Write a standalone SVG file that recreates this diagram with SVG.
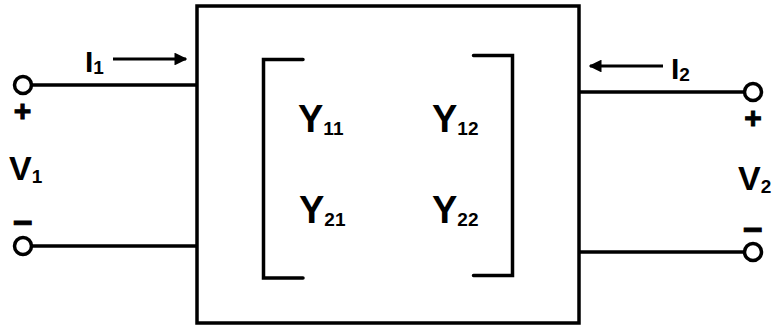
<svg xmlns="http://www.w3.org/2000/svg" width="774" height="329" viewBox="0 0 774 329">
<style>
.w{stroke:#000;stroke-width:3.5;fill:none;stroke-linecap:butt}
.br{stroke:#000;stroke-width:3.5;fill:none;stroke-linecap:round;stroke-linejoin:miter}
.t{font-family:"Liberation Sans",Arial,sans-serif;font-weight:bold;fill:#000}
.sym{font-family:"Liberation Sans",Arial,sans-serif;font-weight:bold;fill:#000;stroke:#000;stroke-width:1;text-anchor:middle}
.term{stroke:#000;stroke-width:3.5;fill:#fff}
.arr{stroke:#000;stroke-width:3.2}
</style>
<defs>
<marker id="ah" viewBox="0 0 10 10" refX="9" refY="5" markerWidth="4" markerHeight="4" markerUnits="strokeWidth" orient="auto">
<path d="M0,0 L10,5 L0,10 Z" fill="#000"/>
</marker>
</defs>
<g id="twoport">
<rect x="197" y="6" width="382" height="317" class="w"/>
<path class="br" d="M303,59.5 H263.5 V278 H303"/>
<path class="br" d="M473.5,55.5 H512.5 V275.5 H473.5"/>
<text class="t" x="298" y="132" font-size="38">Y<tspan font-size="19" dy="3">11</tspan></text>
<text class="t" x="432" y="132" font-size="38">Y<tspan font-size="19" dy="3">12</tspan></text>
<text class="t" x="299" y="223" font-size="38">Y<tspan font-size="19" dy="3">21</tspan></text>
<text class="t" x="432" y="223" font-size="38">Y<tspan font-size="19" dy="3">22</tspan></text>
</g>
<g id="connectors">
<line class="w" x1="31" y1="85" x2="197" y2="85"/>
<line class="w" x1="31" y1="246" x2="197" y2="246"/>
<line class="w" x1="579" y1="92" x2="745" y2="92"/>
<line class="w" x1="579" y1="252" x2="745" y2="252"/>
<line class="arr" x1="113" y1="59" x2="186" y2="59" marker-end="url(#ah)"/>
<line class="arr" x1="663" y1="66" x2="590" y2="66" marker-end="url(#ah)"/>
</g>
<g id="port1">
<circle class="term" cx="23" cy="85" r="8.5"/>
<circle class="term" cx="23" cy="246" r="8.5"/>
<text class="sym" x="22.5" y="121" font-size="30">+</text>
<text class="sym" x="23" y="234" font-size="34">−</text>
<text class="t" x="9" y="180" font-size="34">V<tspan font-size="19" dy="3">1</tspan></text>
<text class="t" x="85" y="72" font-size="30">I<tspan font-size="19" dy="2">1</tspan></text>
</g>
<g id="port2">
<circle class="term" cx="753" cy="92" r="8.5"/>
<circle class="term" cx="753" cy="252" r="8.5"/>
<text class="sym" x="753" y="128" font-size="30">+</text>
<text class="sym" x="753" y="241" font-size="34">−</text>
<text class="t" x="738" y="190" font-size="34">V<tspan font-size="19" dy="3">2</tspan></text>
<text class="t" x="671" y="79" font-size="30">I<tspan font-size="19" dy="2">2</tspan></text>
</g>
</svg>
